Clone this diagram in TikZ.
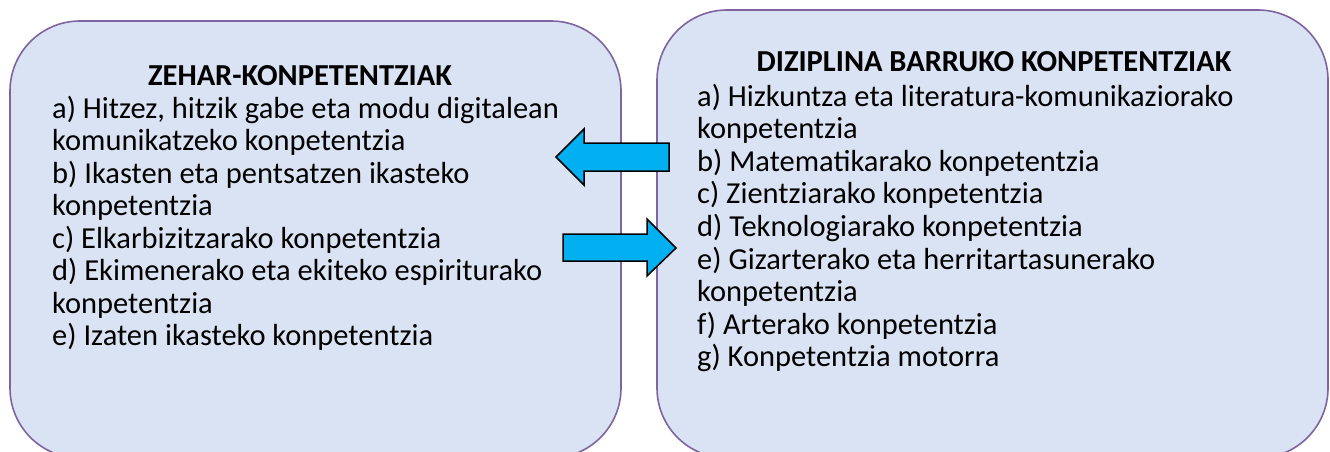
\documentclass[tikz,border=0pt]{standalone}
\usepackage{fontspec}
\setmainfont{Carlito}
\begin{document}
\begin{tikzpicture}[x=1pt,y=-1pt,
  panel/.style={draw=panelline,fill=panelfill,line width=1.6pt,rounded corners=70pt},
  blockarrow/.style={draw=black,fill=arrowfill,line width=1.5pt,line join=miter},
  ttl/.style={font=\fontsize{30.5}{33}\selectfont\bfseries,anchor=base,inner sep=0pt},
  itm/.style={font=\fontsize{30.5}{33}\selectfont,anchor=base west,inner sep=0pt}]
\definecolor{panelfill}{HTML}{DAE3F3}
\definecolor{panelline}{HTML}{8064A2}
\definecolor{arrowfill}{HTML}{00B0F0}
\useasboundingbox (0,0) rectangle (1330,452);
\clip (0,0) rectangle (1330,452);
% panels
\draw[panel] (10,21) rectangle (621,458);
\draw[panel] (657,10) rectangle (1328,458);
% left panel text
\node[ttl] (lt) at (300,85.5) {ZEHAR-KONPETENTZIAK};
\node[itm] (l1) at (52,118) {a) Hitzez, hitzik gabe eta modu digitalean};
\node[itm] (l2) at (52,150.5) {komunikatzeko konpetentzia};
\node[itm] (l3) at (52,183) {b) Ikasten eta pentsatzen ikasteko};
\node[itm] (l4) at (52,215.5) {konpetentzia};
\node[itm] (l5) at (52,248) {c) Elkarbizitzarako konpetentzia};
\node[itm] (l6) at (52,280.5) {d) Ekimenerako eta ekiteko espiriturako};
\node[itm] (l7) at (52,313) {konpetentzia};
\node[itm] (l8) at (52,345.5) {e) Izaten ikasteko konpetentzia};
% right panel text
\node[ttl] (rt) at (994,71.5) {DIZIPLINA BARRUKO KONPETENTZIAK};
\node[itm] (r1) at (697,106) {a) Hizkuntza eta literatura-komunikaziorako};
\node[itm] (r2) at (697,138.6) {konpetentzia};
\node[itm] (r3) at (697,171.2) {b) Matematikarako konpetentzia};
\node[itm] (r4) at (697,203.8) {c) Zientziarako konpetentzia};
\node[itm] (r5) at (697,236.4) {d) Teknologiarako konpetentzia};
\node[itm] (r6) at (697,269) {e) Gizarterako eta herritartasunerako};
\node[itm] (r7) at (697,301.6) {konpetentzia};
\node[itm] (r8) at (697,334.2) {f) Arterako konpetentzia};
\node[itm] (r9) at (697,366.8) {g) Konpetentzia motorra};
% block arrows
\draw[blockarrow] (556,157) -- (584,129) -- (584,143) -- (669,143) -- (669,171) -- (584,171) -- (584,185) -- cycle;
\draw[blockarrow] (676,248) -- (647,219) -- (647,234) -- (563,234) -- (563,261) -- (647,261) -- (647,276) -- cycle;
\end{tikzpicture}
\end{document}
